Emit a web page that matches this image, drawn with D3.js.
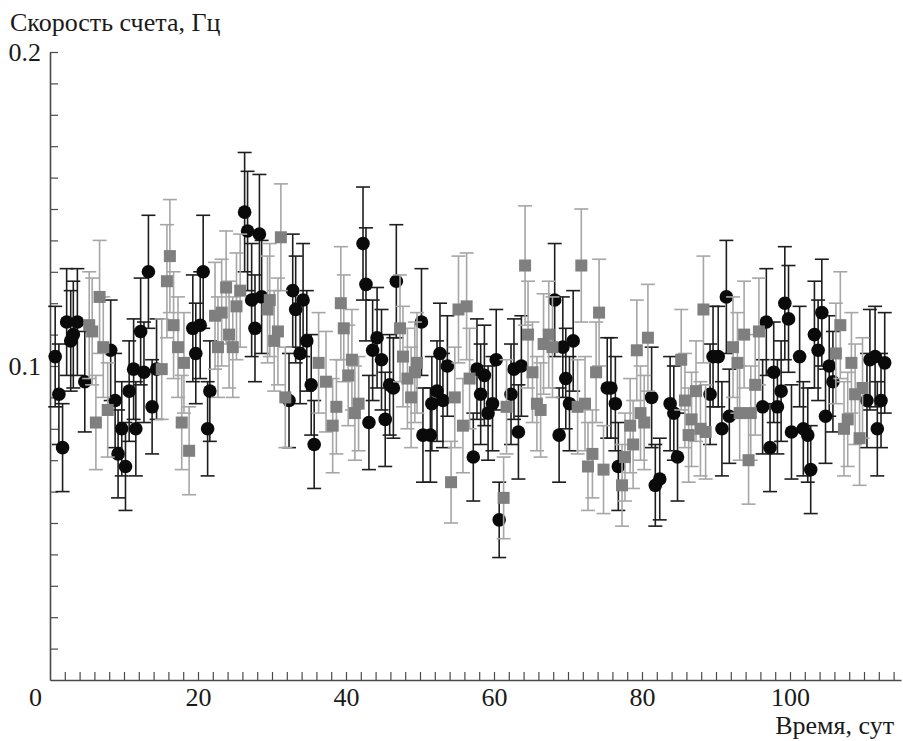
<!DOCTYPE html>
<html>
<head>
<meta charset="utf-8">
<script src="https://cdn.jsdelivr.net/npm/d3@7/dist/d3.min.js"></script>
<style>
  html, body { margin: 0; padding: 0; background: #fff; }
  svg { display: block; }
  text { font-family: "Liberation Serif", "Times New Roman", serif; fill: #1a1a1a; }
</style>
</head>
<body>
<svg id="chart" width="903" height="741"></svg>
<script>
// Count rate vs time, two detectors (circles and squares) with 1σ error bars.
const yTitle = "Скорость счета, Гц";
const xTitle = "Время, сут";

const xLabelTicks = [0, 20, 40, 60, 80, 100];
const yLabelTicks = [0.1, 0.2];

// Series 1 (black circles): day, rate (Hz), error (Hz)
const blackDay = [
  0.7,1.2,1.7,2.25,2.8,3.15,3.7,4.7,8.2,8.8,
  9.2,9.7,10.2,10.7,11.3,11.6,12.25,12.7,13.3,13.8,
  14.4,19.3,19.7,20.3,20.7,21.3,21.6,26.3,26.7,27.25,
  27.7,28.3,28.6,32.3,32.8,33.2,33.8,34.2,34.7,35.3,
  35.7,42.3,42.7,43.1,43.6,44.2,44.8,45.3,45.9,46.4,
  46.8,50.2,50.4,51.4,51.6,52.3,52.7,53.1,53.7,57.2,
  57.7,58.2,58.7,59.2,59.8,60.3,60.7,62.3,62.7,63.3,
  63.7,68.2,68.8,69.3,69.7,70.2,70.7,75.3,75.8,76.4,
  76.8,81.3,81.8,82.4,83.8,84.3,84.8,89.2,89.6,90.3,
  90.8,91.4,91.8,96.3,96.8,97.3,97.8,98.3,98.8,99.3,
  99.8,100.2,101.3,101.8,102.4,102.8,103.3,103.8,104.3,104.8,
  105.3,105.8,110.4,110.8,111.5,111.8,112.3,112.8
];
const blackRate = [
  0.103,0.091,0.074,0.114,0.108,0.110,0.114,0.095,0.105,0.089,
  0.072,0.080,0.068,0.092,0.099,0.080,0.111,0.098,0.130,0.087,
  0.099,0.112,0.104,0.113,0.130,0.080,0.092,0.149,0.143,0.121,
  0.112,0.142,0.122,0.089,0.124,0.118,0.104,0.121,0.108,0.094,
  0.075,0.139,0.126,0.082,0.105,0.109,0.102,0.083,0.094,0.093,
  0.127,0.114,0.078,0.078,0.088,0.092,0.104,0.089,0.100,0.071,
  0.099,0.091,0.097,0.085,0.088,0.102,0.051,0.091,0.099,0.079,
  0.100,0.121,0.078,0.106,0.096,0.088,0.108,0.093,0.093,0.088,
  0.068,0.090,0.062,0.064,0.088,0.085,0.071,0.091,0.103,0.103,
  0.080,0.122,0.084,0.087,0.114,0.074,0.098,0.087,0.092,0.120,
  0.115,0.079,0.103,0.080,0.078,0.067,0.110,0.105,0.117,0.084,
  0.100,0.095,0.089,0.102,0.103,0.080,0.089,0.101
];
const blackErr = [
  0.016,0.016,0.014,0.017,0.016,0.017,0.017,0.016,0.016,0.015,
  0.014,0.015,0.014,0.016,0.016,0.015,0.017,0.016,0.018,0.015,
  0.016,0.017,0.016,0.017,0.018,0.015,0.016,0.019,0.019,0.018,
  0.017,0.019,0.018,0.015,0.018,0.017,0.016,0.018,0.016,0.016,
  0.014,0.018,0.018,0.015,0.016,0.016,0.016,0.015,0.016,0.016,
  0.018,0.017,0.015,0.015,0.015,0.016,0.016,0.015,0.016,0.014,
  0.016,0.016,0.016,0.015,0.015,0.016,0.012,0.016,0.016,0.015,
  0.016,0.018,0.015,0.016,0.016,0.015,0.016,0.016,0.016,0.015,
  0.014,0.016,0.013,0.013,0.015,0.015,0.014,0.016,0.016,0.016,
  0.015,0.018,0.015,0.015,0.017,0.014,0.016,0.015,0.016,0.018,
  0.017,0.015,0.016,0.015,0.015,0.014,0.017,0.016,0.017,0.015,
  0.016,0.016,0.015,0.016,0.016,0.015,0.015,0.016
];

// Series 2 (grey squares)
const grayDay = [
  5.3,5.7,6.2,6.7,7.2,7.8,15.1,15.8,16.2,16.7,
  17.3,17.8,18.1,18.8,22.3,22.7,23.2,23.8,24.2,24.7,
  25.2,25.7,29.4,29.7,30.3,30.8,31.2,31.8,36.3,37.3,
  38.2,38.7,39.3,39.7,40.3,40.8,41.2,41.7,47.3,47.7,
  48.3,48.8,49.3,49.6,54.2,54.7,55.2,55.8,56.3,56.7,
  61.3,61.7,64.2,64.6,65.2,65.8,66.3,66.7,67.4,67.9,
  71.3,71.8,72.3,72.7,73.3,73.8,74.2,74.8,77.3,77.7,
  78.4,78.8,79.3,79.8,80.3,80.8,85.3,85.8,86.3,86.7,
  87.3,87.9,88.3,88.6,92.3,92.9,93.2,93.8,94.4,94.7,
  95.3,95.8,106.2,106.8,107.3,107.8,108.3,108.8,109.4,109.8
];
const grayRate = [
  0.113,0.111,0.082,0.122,0.106,0.086,0.099,0.127,0.135,0.113,
  0.106,0.082,0.101,0.073,0.116,0.106,0.117,0.125,0.110,0.106,
  0.119,0.124,0.118,0.121,0.108,0.111,0.141,0.090,0.101,0.095,
  0.081,0.087,0.120,0.112,0.097,0.102,0.085,0.088,0.112,0.103,
  0.096,0.090,0.098,0.101,0.063,0.090,0.118,0.081,0.119,0.096,
  0.058,0.087,0.132,0.110,0.098,0.088,0.086,0.107,0.110,0.106,
  0.087,0.132,0.088,0.068,0.072,0.098,0.117,0.067,0.062,0.071,
  0.081,0.075,0.105,0.085,0.082,0.109,0.102,0.089,0.078,0.083,
  0.092,0.080,0.118,0.079,0.106,0.101,0.085,0.110,0.070,0.085,
  0.094,0.111,0.104,0.113,0.080,0.083,0.101,0.091,0.077,0.093
];
const grayErr = [
  0.017,0.017,0.015,0.018,0.016,0.015,0.016,0.018,0.018,0.017,
  0.016,0.015,0.016,0.014,0.017,0.016,0.017,0.018,0.017,0.016,
  0.017,0.018,0.017,0.018,0.016,0.017,0.017,0.016,0.016,0.016,
  0.015,0.015,0.018,0.017,0.016,0.016,0.015,0.015,0.017,0.016,
  0.016,0.016,0.016,0.016,0.013,0.016,0.017,0.015,0.017,0.016,
  0.013,0.015,0.019,0.017,0.016,0.015,0.015,0.016,0.017,0.016,
  0.015,0.018,0.015,0.014,0.014,0.016,0.017,0.014,0.013,0.014,
  0.015,0.014,0.016,0.015,0.015,0.017,0.016,0.015,0.015,0.015,
  0.016,0.015,0.017,0.015,0.016,0.016,0.015,0.017,0.014,0.015,
  0.016,0.017,0.016,0.017,0.015,0.015,0.016,0.016,0.015,0.016
];

const svg = d3.select("#chart");
const x = d3.scaleLinear().domain([0, 115]).range([50, 901]);
const y = d3.scaleLinear().domain([0, 0.2]).range([680, 52]);

const axisColor = "#4a4a4a";

// x axis: minor ticks every 2 days, pointing inward, labels every 20
const xAxis = d3.axisBottom(x)
  .tickValues(d3.range(0, 115, 2))
  .tickSizeInner(-8).tickSizeOuter(0).tickPadding(8)
  .tickFormat(d => xLabelTicks.includes(d) ? d3.format("d")(d) : "");
const gx = svg.append("g").attr("transform", `translate(0,${y(0)})`).call(xAxis);

// y axis: ticks every 0.01, labels at 0.1 and 0.2
const yAxis = d3.axisLeft(y)
  .tickValues(d3.range(0, 21).map(i => i / 100))
  .tickSizeInner(-8).tickSizeOuter(0).tickPadding(9)
  .tickFormat(d => yLabelTicks.some(v => Math.abs(v - d) < 1e-9) ? d3.format(".1f")(d) : "");
const gy = svg.append("g").attr("transform", `translate(${x(0)},0)`).call(yAxis);

[gx, gy].forEach(g => {
  g.select(".domain").attr("stroke", axisColor).attr("stroke-width", 1.6);
  g.selectAll(".tick line").attr("stroke", axisColor).attr("stroke-width", 1.2);
  g.selectAll(".tick text").attr("font-size", 26).attr("font-family", "Liberation Serif").attr("fill", "#1a1a1a");
});
gx.selectAll(".tick").filter(d => d === 0).select("line").remove();
gx.selectAll(".tick").filter(d => d === 0).select("text").attr("x", -15);
gy.selectAll(".tick").filter(d => d === 0).select("line").remove();

svg.append("text").attr("x", 10).attr("y", 31).attr("font-size", 26).text(yTitle);
svg.append("text").attr("x", 894).attr("y", 734).attr("font-size", 26)
  .attr("text-anchor", "end").text(xTitle);

const cap = 7;
function errorBars(g, days, rates, errs, color, width) {
  const data = days.map((d, i) => ({ d, v: rates[i], e: errs[i] }));
  const eg = g.selectAll("g.err").data(data).join("g").attr("class", "err")
    .attr("stroke", color).attr("stroke-width", width).attr("fill", "none");
  eg.append("line").attr("x1", p => x(p.d)).attr("x2", p => x(p.d))
    .attr("y1", p => y(p.v + p.e)).attr("y2", p => y(p.v - p.e));
  eg.append("line").attr("x1", p => x(p.d) - cap).attr("x2", p => x(p.d) + cap)
    .attr("y1", p => y(p.v + p.e)).attr("y2", p => y(p.v + p.e));
  eg.append("line").attr("x1", p => x(p.d) - cap).attr("x2", p => x(p.d) + cap)
    .attr("y1", p => y(p.v - p.e)).attr("y2", p => y(p.v - p.e));
  return data;
}

const gBlack = svg.append("g");
const bData = errorBars(gBlack, blackDay, blackRate, blackErr, "#1e1e1e", 1.6);
gBlack.selectAll("circle").data(bData).join("circle")
  .attr("cx", p => x(p.d)).attr("cy", p => y(p.v)).attr("r", 6.8).attr("fill", "#0a0a0a");

const gGray = svg.append("g");
const gData = errorBars(gGray, grayDay, grayRate, grayErr, "#a6a6a6", 1.6);
const sq = 12;
gGray.selectAll("rect").data(gData).join("rect")
  .attr("x", p => x(p.d) - sq / 2).attr("y", p => y(p.v) - sq / 2)
  .attr("width", sq).attr("height", sq).attr("fill", "#7f7f7f");
</script>
</body>
</html>
